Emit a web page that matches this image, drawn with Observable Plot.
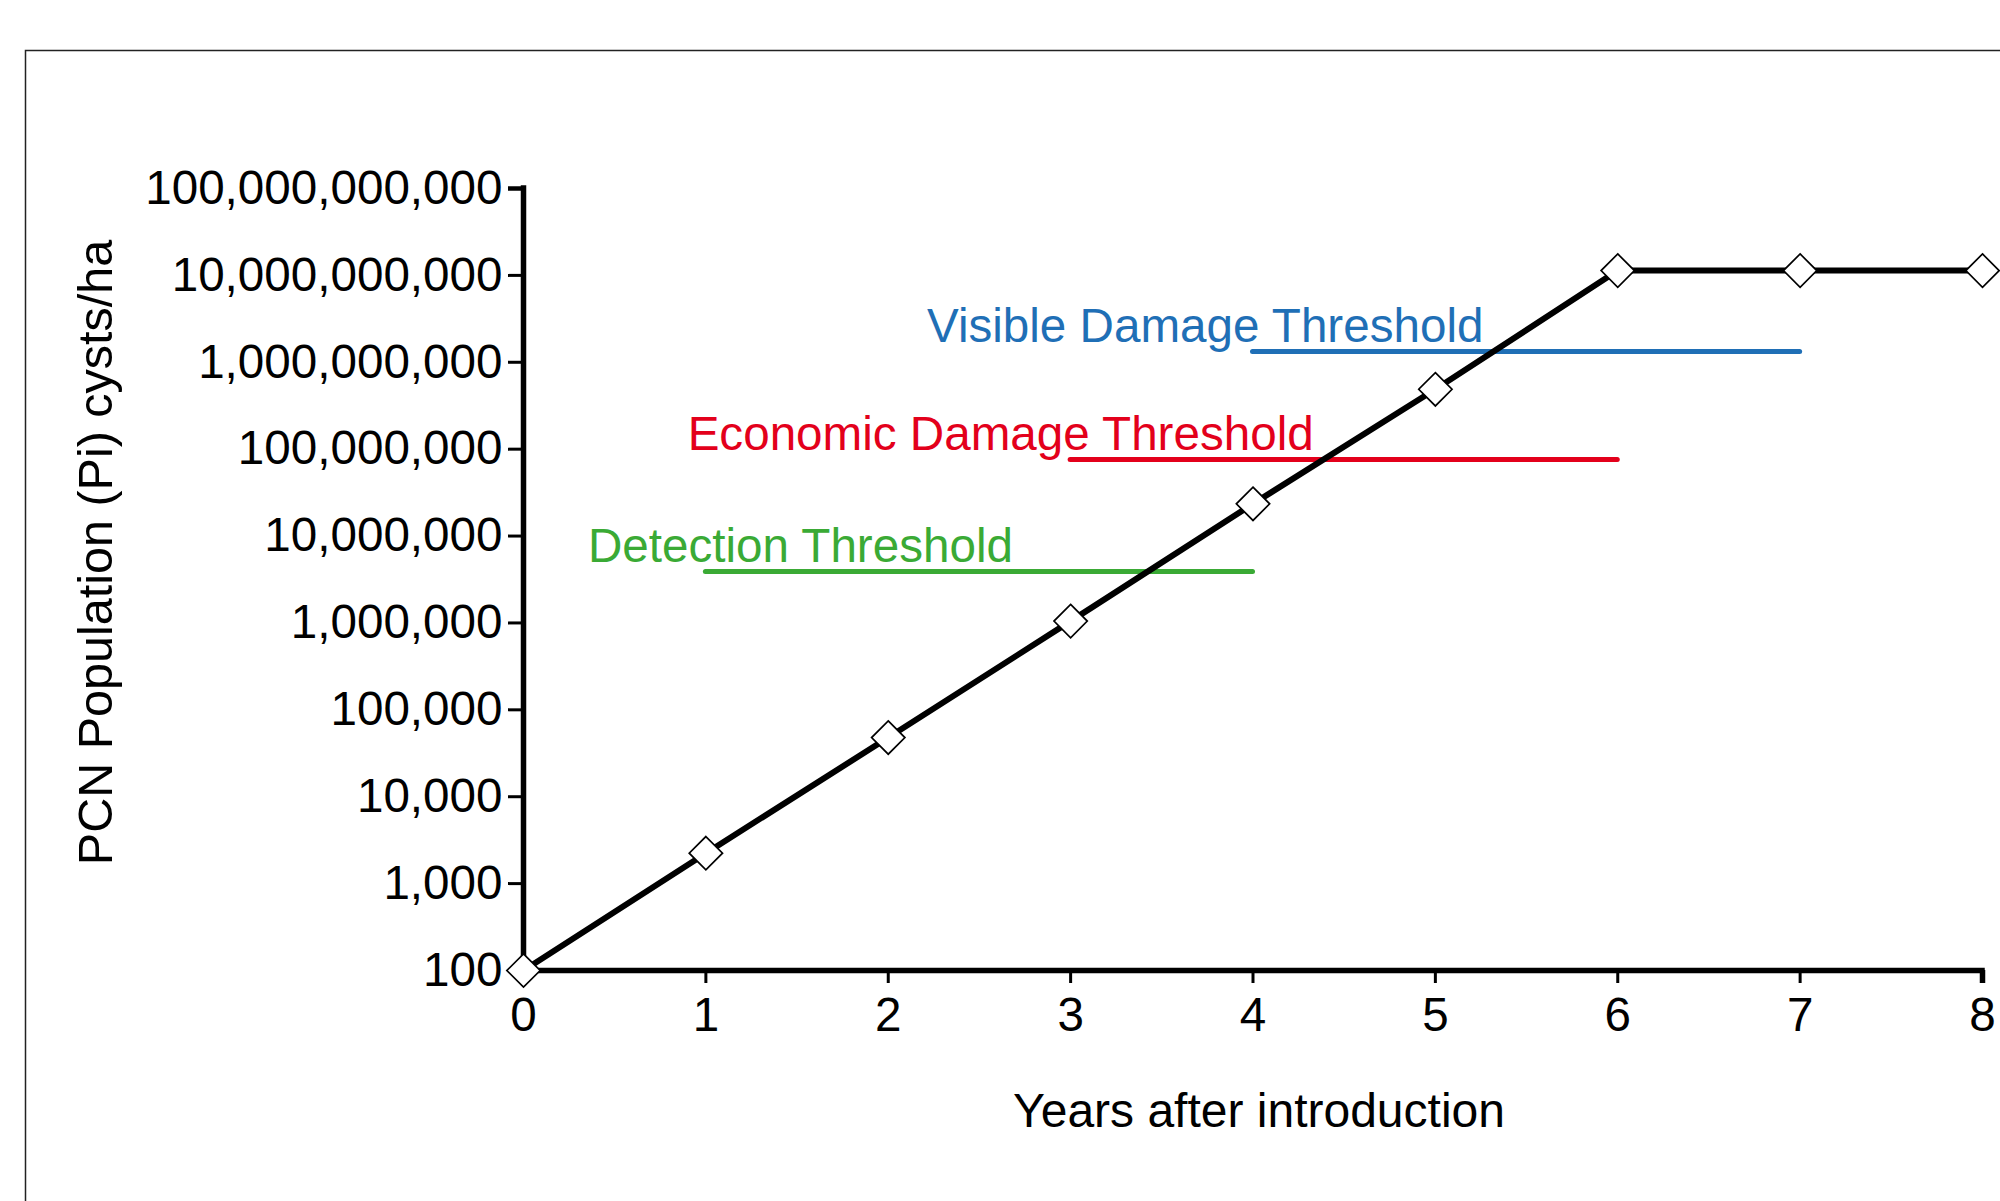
<!DOCTYPE html>
<html>
<head>
<meta charset="utf-8">
<script src="https://cdn.jsdelivr.net/npm/d3@7"></script>
<script src="https://cdn.jsdelivr.net/npm/@observablehq/plot@0.6"></script>
<style>
  html, body { margin: 0; padding: 0; background: #fff; overflow: hidden; }
  #chart svg { display: block; }
</style>
</head>
<body>
<div id="chart"></div>
<script>
// ---- data ----
const years = [0, 1, 2, 3, 4, 5, 6, 7, 8];
const population = [100, 2240, 48000, 1050000, 23500000, 489000000, 11350000000, 11350000000, 11350000000];

const thresholdNames = ["Detection Threshold", "Economic Damage Threshold", "Visible Damage Threshold"];
const thresholdValues = [3900000, 76000000, 1330000000];
const thresholdStartYear = [1, 3, 4];
const thresholdEndYear = [4, 6, 7];

const xTickValues = [0, 1, 2, 3, 4, 5, 6, 7, 8];
const yTickValues = [1e2, 1e3, 1e4, 1e5, 1e6, 1e7, 1e8, 1e9, 1e10, 1e11];

const xTitle = "Years after introduction";
const yTitle = "PCN Population (Pi) cysts/ha";

// ---- tables for the library ----
const series = years.map((year, i) => ({year, population: population[i]}));
const thresholds = thresholdNames.map((name, i) => ({
  name, value: thresholdValues[i], start: thresholdStartYear[i], end: thresholdEndYear[i]
}));

// ---- styles ----
const thresholdColors = ["#3aaa35", "#e3001b", "#1f6fb6"];
const labelDx = [-118, -383, -326];
const FS = 47.6;

const xMin = d3.min(xTickValues), xMax = d3.max(xTickValues);
const yMin = d3.min(yTickValues), yMax = d3.max(yTickValues);

const chart = Plot.plot({
  width: 2000,
  height: 1201,
  marginLeft: 523,
  marginRight: 18,
  marginTop: 188,
  marginBottom: 231,
  style: {fontFamily: "'Liberation Sans', Arial, sans-serif", fontSize: FS + "px", background: "white", color: "black"},
  x: {domain: [xMin, xMax], axis: null},
  y: {type: "log", domain: [yMin, yMax], axis: null},
  color: {domain: thresholdNames, range: thresholdColors},
  marks: [
    // outer border (only left & top edges are inside the picture)
    Plot.frame({stroke: "#222", strokeWidth: 1.5, insetLeft: -498, insetTop: -138, insetRight: -40, insetBottom: -260}),
    // threshold lines
    Plot.ruleY(thresholds, {y: "value", x1: "start", x2: "end", stroke: "name", strokeWidth: 5, strokeLinecap: "round"}),
    // threshold labels
    ...thresholds.map((t, i) => Plot.text([t], {
      x: "start", y: "value", text: "name", fill: "name",
      textAnchor: "start", lineAnchor: "middle", dx: labelDx[i], dy: -25, fontSize: FS
    })),
    // population line
    Plot.line(series, {x: "year", y: "population", stroke: "black", strokeWidth: 6}),
    // axes
    Plot.axisX(xTickValues, {tickSize: 13, tickPadding: 14, strokeWidth: 3, fontSize: FS, label: null, tickFormat: d3.format("d")}),
    Plot.axisY(yTickValues, {tickSize: 15, tickPadding: 6, strokeWidth: 3, fontSize: FS, label: null, tickFormat: d3.format(",")}),
    Plot.ruleY([yMin], {x1: xMin, x2: xMax, strokeWidth: 5.5, strokeLinecap: "square"}),
    Plot.ruleX([xMin], {y1: yMin, y2: yMax, strokeWidth: 5.5, strokeLinecap: "square"}),
    Plot.ruleY([yMax], {x1: xMin, x2: xMin, insetLeft: -15, strokeWidth: 4.5}),
    Plot.ruleX([xMax], {y1: yMin, y2: yMin, insetBottom: -13, strokeWidth: 5.5}),
    // axis titles
    Plot.text([xTitle], {frameAnchor: "bottom", text: d => d, textAnchor: "middle", lineAnchor: "middle", dx: 6, dy: 141, fontSize: 48}),
    Plot.text([yTitle], {frameAnchor: "left", text: d => d, rotate: -90, textAnchor: "middle", lineAnchor: "middle", dx: -427, dy: -27, fontSize: 48.5}),
    // markers
    Plot.dot(series, {x: "year", y: "population", symbol: "diamond2", r: 15, fill: "white", stroke: "black", strokeWidth: 1.7})
  ]
});
document.getElementById("chart").appendChild(chart);
</script>
</body>
</html>
